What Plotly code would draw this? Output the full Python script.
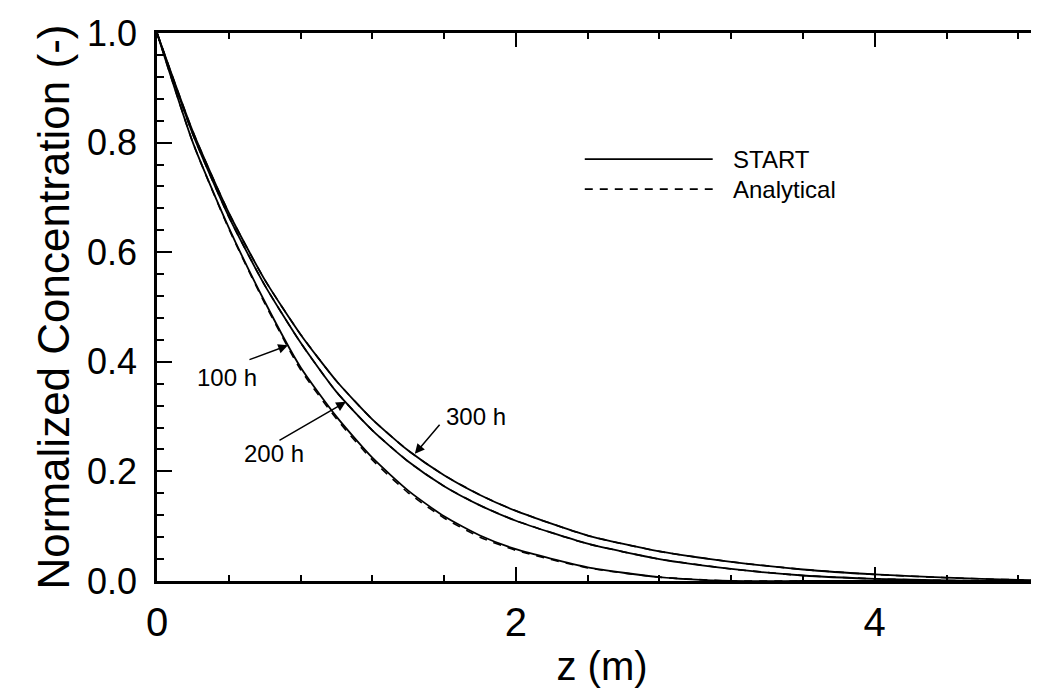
import plotly.graph_objects as go

# ---- data ----
z = [0.0, 0.2, 0.4, 0.6, 0.8, 1.0, 1.2, 1.4, 1.6, 1.8, 2.0, 2.4, 2.8, 3.2, 3.6, 4.0, 4.4, 4.8, 5.0]

start_100h = [1.0, 0.80, 0.645, 0.51, 0.39, 0.30, 0.225, 0.165, 0.118, 0.083, 0.058, 0.025, 0.007, 0.0, 0.0, 0.0, 0.0, 0.0, 0.0]
start_200h = [1.0, 0.815, 0.665, 0.54, 0.435, 0.345, 0.275, 0.218, 0.173, 0.138, 0.11, 0.068, 0.04, 0.022, 0.010, 0.004, 0.001, 0.0, 0.0]
start_300h = [1.0, 0.82, 0.672, 0.55, 0.45, 0.365, 0.295, 0.238, 0.193, 0.157, 0.128, 0.083, 0.054, 0.035, 0.021, 0.012, 0.006, 0.002, 0.001]

anal_100h = [1.0, 0.80, 0.643, 0.507, 0.386, 0.296, 0.221, 0.161, 0.115, 0.080, 0.056, 0.024, 0.007, 0.0, 0.0, 0.0, 0.0, 0.0, 0.0]
anal_200h = [1.0, 0.815, 0.665, 0.54, 0.435, 0.345, 0.275, 0.218, 0.173, 0.138, 0.11, 0.068, 0.04, 0.022, 0.010, 0.004, 0.001, 0.0, 0.0]
anal_300h = [1.0, 0.82, 0.672, 0.55, 0.45, 0.365, 0.295, 0.238, 0.193, 0.157, 0.128, 0.083, 0.054, 0.035, 0.021, 0.012, 0.006, 0.002, 0.001]

x_ticks = [0, 2, 4]
y_ticks = [0.0, 0.2, 0.4, 0.6, 0.8, 1.0]
y_ticktext = ["0.0", "0.2", "0.4", "0.6", "0.8", "1.0"]

time_labels = ["100 h", "200 h", "300 h"]
legend_names = ["START", "Analytical"]

FONT = "Liberation Sans, Arial, Helvetica, sans-serif"
BLACK = "#000000"

fig = go.Figure()

for ys in (start_100h, start_200h, start_300h):
    fig.add_trace(go.Scatter(x=z, y=ys, mode="lines", line=dict(color=BLACK, width=1.8, shape="spline", smoothing=0.6),
                             showlegend=False, hoverinfo="skip"))
for ys in (anal_100h, anal_200h, anal_300h):
    fig.add_trace(go.Scatter(x=z, y=ys, mode="lines", line=dict(color=BLACK, width=1.6, dash="8px,7px", shape="spline", smoothing=0.6),
                             showlegend=False, hoverinfo="skip"))

# ---- manual legend ----
leg_x0, leg_x1, leg_tx = 2.384, 3.097, 3.20
leg_y = [0.770, 0.715]
leg_dash = ["solid", "8px,7px"]
for name, yy, dd in zip(legend_names, leg_y, leg_dash):
    fig.add_shape(type="line", x0=leg_x0, x1=leg_x1, y0=yy, y1=yy, xref="x", yref="y",
                  line=dict(color=BLACK, width=1.8, dash=dd))
    fig.add_annotation(x=leg_tx, y=yy, xref="x", yref="y", text=name, showarrow=False,
                       xanchor="left", yanchor="middle", font=dict(family=FONT, size=24, color=BLACK))

# ---- time labels with arrows ----
label_pos = [(0.39, 0.372), (0.652, 0.232), (1.777, 0.301)]
arrow_tail = [(0.507, 0.403), (0.674, 0.255), (1.582, 0.288)]
arrow_tip = [(0.73, 0.43), (1.053, 0.327), (1.437, 0.232)]
for txt, (lx, ly), (tx, ty), (hx, hy) in zip(time_labels, label_pos, arrow_tail, arrow_tip):
    fig.add_annotation(x=lx, y=ly, xref="x", yref="y", text=txt, showarrow=False,
                       xanchor="center", yanchor="middle", font=dict(family=FONT, size=24, color=BLACK))
    fig.add_annotation(x=hx, y=hy, ax=tx, ay=ty, xref="x", yref="y", axref="x", ayref="y",
                       text="", showarrow=True, arrowhead=2, arrowsize=1.3, arrowwidth=1.5,
                       arrowcolor=BLACK)

fig.update_xaxes(
    range=[0, 4.96], tickvals=x_ticks, ticktext=[str(v) for v in x_ticks],
    showline=True, linecolor=BLACK, linewidth=2.5, mirror="allticks",
    ticks="inside", ticklen=14, tickwidth=2, tickcolor=BLACK,
    minor=dict(dtick=0.4, tick0=0, ticks="inside", ticklen=6, tickwidth=1.5, tickcolor=BLACK),
    showgrid=False, zeroline=False, automargin=False,
    tickfont=dict(family=FONT, size=40, color=BLACK), ticklabelstandoff=4,
    title=dict(text="z (m)", font=dict(family=FONT, size=40, color=BLACK), standoff=10),
)
fig.update_yaxes(
    range=[0, 1.0], tickvals=y_ticks, ticktext=y_ticktext,
    showline=True, linecolor=BLACK, linewidth=2.5, mirror="allticks",
    ticks="inside", ticklen=15, tickwidth=2, tickcolor=BLACK,
    minor=dict(dtick=0.04, tick0=0, ticks="inside", ticklen=7, tickwidth=1.5, tickcolor=BLACK),
    showgrid=False, zeroline=False, automargin=False,
    tickfont=dict(family=FONT, size=36, color=BLACK), ticklabelstandoff=10,
    title=dict(text="Normalized Concentration (-)", font=dict(family=FONT, size=44, color=BLACK), standoff=4),
)

fig.update_layout(
    width=1039, height=697,
    margin=dict(l=149, r=0, t=25, b=124),
    paper_bgcolor="white", plot_bgcolor="white",
    showlegend=False,
)

fig.write_html("out.html")
